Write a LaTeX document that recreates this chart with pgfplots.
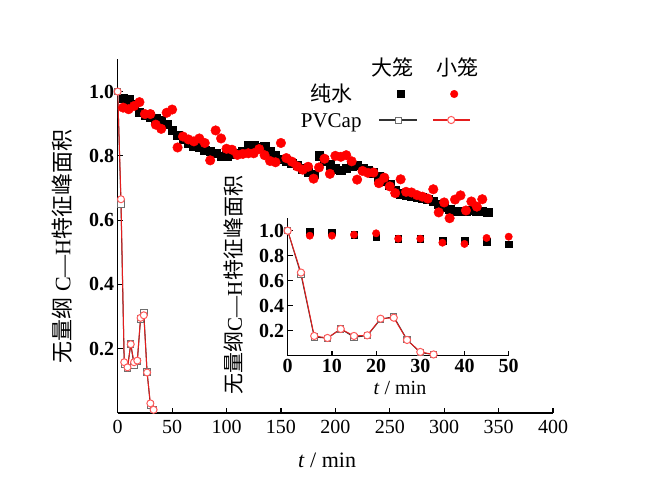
\documentclass[border=0pt]{standalone}
\usepackage{fontspec}
\setmainfont{Liberation Serif}
\newfontfamily\cjk{Noto Sans CJK SC}
\usepackage{pgfplots}
\usepackage{pgfplotstable}
\pgfplotsset{compat=1.18}

\definecolor{dotred}{RGB}{255,0,0}
\definecolor{pvred}{RGB}{228,30,30}
\definecolor{pvredm}{RGB}{255,90,90}
\definecolor{pvgray}{RGB}{50,50,50}
\definecolor{pvgraym}{RGB}{110,110,110}

\newcommand\tf{\fontsize{20}{24}\selectfont}
\newcommand\lf{\fontsize{21}{25}\selectfont}
\newcommand\xf{\fontsize{22}{26}\selectfont}

% pure water, large cage (main)
\pgfplotstableread{
t v
5 0.980
10 0.975
15 0.960
20 0.935
25 0.927
30 0.922
35 0.915
40 0.910
45 0.898
50 0.880
55 0.865
60 0.852
65 0.840
70 0.830
75 0.826
80 0.818
85 0.815
90 0.808
95 0.798
100 0.800
105 0.805
110 0.808
115 0.813
120 0.832
125 0.832
130 0.825
135 0.829
140 0.813
145 0.800
150 0.790
155 0.785
160 0.778
165 0.770
170 0.760
175 0.750
180 0.742
185 0.800
190 0.785
195 0.772
200 0.760
205 0.756
210 0.762
215 0.768
220 0.770
225 0.762
230 0.755
235 0.748
240 0.735
245 0.722
250 0.710
255 0.692
260 0.682
265 0.677
270 0.674
275 0.673
280 0.670
285 0.666
290 0.658
295 0.650
300 0.642
305 0.634
310 0.628
315 0.627
320 0.628
325 0.630
330 0.627
335 0.627
340 0.625
}\bigwater

% pure water, small cage (main)
\pgfplotstableread{
t v
5 0.950
10 0.945
15 0.955
20 0.967
25 0.930
30 0.930
35 0.897
40 0.884
45 0.934
50 0.944
55 0.826
60 0.860
65 0.851
70 0.845
75 0.854
80 0.840
85 0.786
90 0.879
95 0.854
100 0.822
105 0.819
110 0.803
115 0.806
120 0.808
125 0.808
130 0.821
135 0.802
140 0.784
145 0.780
150 0.840
155 0.793
160 0.782
165 0.767
170 0.757
175 0.766
180 0.729
185 0.764
190 0.791
195 0.744
200 0.800
205 0.797
210 0.802
215 0.783
220 0.726
225 0.753
230 0.747
235 0.748
240 0.715
245 0.732
250 0.705
255 0.684
260 0.727
265 0.688
270 0.686
275 0.678
280 0.673
285 0.667
290 0.696
295 0.624
300 0.655
305 0.606
310 0.664
315 0.677
320 0.630
325 0.658
330 0.642
335 0.665
}\smallwater

% PVCap, large cage
\pgfplotstableread{
t v
0 1.000
3 0.650
6 0.150
9 0.140
12 0.215
15 0.148
18 0.160
21 0.292
24 0.312
27 0.128
30 0.025
33 0.010
}\bigpv

% PVCap, small cage
\pgfplotstableread{
t v
0 1.000
3 0.665
6 0.158
9 0.142
12 0.214
15 0.158
18 0.163
21 0.296
24 0.304
27 0.126
30 0.030
33 0.010
}\smallpv

% inset pure water
\pgfplotstableread{
t v
5 0.990
10 0.987
15 0.968
20 0.947
25 0.934
30 0.934
35 0.920
40 0.920
45 0.910
50 0.891
}\bigwaterin
\pgfplotstableread{
t v
5 0.960
10 0.960
15 0.968
20 0.979
25 0.936
30 0.936
35 0.904
40 0.894
45 0.942
50 0.952
}\smallwaterin

\pgfplotsset{
  myax/.style={
    scale only axis,
    axis x line*=bottom, axis y line*=left,
    axis line style={-, line width=1.2pt, black},
    every outer x axis line/.append style={-},
    every outer y axis line/.append style={-},
    tick style={line width=1.2pt, black},
    tick align=inside,
    major tick length=5pt,
    minor tick num=0,
    /pgf/number format/assume math mode=true,
    tick label style={font=\tf},
    yticklabel style={/pgf/number format/fixed, /pgf/number format/fixed zerofill, /pgf/number format/precision=1},
  },
}

\begin{document}
\begin{tikzpicture}
\path[use as bounding box] (0,0) rectangle (650pt,499pt);

\begin{axis}[myax,
  at={(117.7pt,86pt)}, anchor=south west,
  width=435.3pt, height=353.6pt,
  xmin=0, xmax=400, ymin=0, ymax=1.1,
  xtick={0,50,100,150,200,250,300,350,400},
  ytick={0.2,0.4,0.6,0.8,1.0},
  xticklabel style={yshift=-4pt},
  yticklabel style={font=\tf\bfseries},
  xlabel={\textit{t} / min},
  ylabel={{\cjk 无量纲} C—H{\cjk 特征峰面积}},
  xlabel style={font=\xf, at={(axis description cs:0.481,-0.133)}, anchor=center},
  ylabel style={font=\xf, at={(axis description cs:-0.128,0.471)}, anchor=center},
  legend columns=3,
  legend style={at={(axis description cs:0.4096,1.013)}, anchor=north west,
    draw=none, fill=none, inner sep=0pt, column sep=0pt, row sep=0pt,
    nodes={inner sep=0pt, text depth=0pt}},
]
% ---- legend (header row, pure water row, PVCap row)
\addlegendimage{legend image code/.code={\path[draw=none,fill=none] (-35pt,-13pt) rectangle (35pt,13pt);}}
\addlegendentry{\mbox{}}
\addlegendimage{legend image code/.code={\path[draw=none,fill=none] (-30pt,-13pt) rectangle (28pt,13pt);
  \node[anchor=base, inner sep=0pt, font=\lf, draw=none, fill=none, text=black] at (-5pt,-7pt) {\cjk 大笼};}}
\addlegendentry{\mbox{}}
\addlegendimage{legend image code/.code={\path[draw=none,fill=none] (-28pt,-13pt) rectangle (28pt,13pt);
  \node[anchor=base, inner sep=0pt, font=\lf, draw=none, fill=none, text=black] at (3pt,-7pt) {\cjk 小笼};}}
\addlegendentry{\mbox{}}
\addlegendimage{legend image code/.code={\path[draw=none,fill=none] (-35pt,-13pt) rectangle (35pt,13pt);
  \node[anchor=base, inner sep=0pt, font=\lf, draw=none, fill=none, text=black] at (0pt,-7pt) {\cjk 纯水};}}
\addlegendentry{\mbox{}}
\addlegendimage{legend image code/.code={\path[draw=none,fill=none] (-30pt,-13pt) rectangle (28pt,13pt);
  \draw[black, fill=black, mark=square*, mark size=3.5pt] plot coordinates {(3pt,0pt)};}}
\addlegendentry{\mbox{}}
\addlegendimage{legend image code/.code={\path[draw=none,fill=none] (-28pt,-13pt) rectangle (28pt,13pt);
  \draw[dotred, fill=dotred, mark=*, mark size=3.8pt] plot coordinates {(0pt,0pt)};}}
\addlegendentry{\mbox{}}
\addlegendimage{legend image code/.code={\path[draw=none,fill=none] (-35pt,-13pt) rectangle (35pt,13pt);
  \node[anchor=base, inner sep=0pt, font=\lf, draw=none, fill=none, text=black] at (0pt,-7pt) {PVCap};}}
\addlegendentry{\mbox{}}
\addlegendimage{legend image code/.code={\path[draw=none,fill=none] (-30pt,-13pt) rectangle (28pt,13pt);
  \draw[pvgray, line width=1.3pt] (-18pt,0pt) -- (20pt,0pt);
  \draw[pvgraym, line width=1pt, fill=white, mark=square*, mark size=3pt, mark options={fill=white}] plot coordinates {(1pt,0pt)};}}
\addlegendentry{\mbox{}}
\addlegendimage{legend image code/.code={\path[draw=none,fill=none] (-28pt,-13pt) rectangle (28pt,13pt);
  \draw[pvred, line width=1.3pt] (-21pt,0pt) -- (16pt,0pt);
  \draw[pvredm, line width=1pt, mark=*, mark size=3.6pt, mark options={fill=white}] plot coordinates {(-3pt,0pt)};}}
\addlegendentry{\mbox{}}

% ---- data
\addplot[forget plot, only marks, mark=square*, mark size=4.2pt, black, mark options={fill=black}] table[x=t,y=v] {\bigwater};
\addplot[forget plot, only marks, mark=*, mark size=4.8pt, dotred, mark options={fill=dotred}] table[x=t,y=v] {\smallwater};
\addplot[forget plot, pvgray, line width=1pt, mark=square*, mark size=3.2pt, mark options={draw=pvgraym, fill=white}] table[x=t,y=v] {\bigpv};
\addplot[forget plot, pvred, line width=1pt, mark=*, mark size=3.5pt, mark options={draw=pvredm, fill=white}] table[x=t,y=v] {\smallpv};
\end{axis}

\begin{axis}[myax,
  at={(287.7pt,143.3pt)}, anchor=south west,
  width=221pt, height=137.5pt,
  xmin=0, xmax=50, ymin=0, ymax=1.1,
  xtick={0,10,20,30,40,50},
  ytick={0.2,0.4,0.6,0.8,1.0},
  xticklabel style={font=\tf\bfseries},
  yticklabel style={font=\tf\bfseries},
  xlabel={\textit{t} / min},
  ylabel={{\cjk 无量纲}C—H{\cjk 特征峰面积}},
  xlabel style={font=\tf, at={(axis description cs:0.508,-0.235)}, anchor=center},
  ylabel style={font=\lf, at={(axis description cs:-0.243,0.514)}, anchor=center},
]
\addplot[only marks, mark=square*, mark size=3.3pt, black, mark options={fill=black}] table[x=t,y=v] {\bigwaterin};
\addplot[only marks, mark=*, mark size=3.7pt, dotred, mark options={fill=dotred}] table[x=t,y=v] {\smallwaterin};
\addplot[pvgray, line width=1pt, mark=square*, mark size=3.2pt, mark options={draw=pvgraym, fill=white}] table[x=t,y=v] {\bigpv};
\addplot[pvred, line width=1pt, mark=*, mark size=3.6pt, mark options={draw=pvredm, fill=white}] table[x=t,y=v] {\smallpv};
\end{axis}
\end{tikzpicture}
\end{document}
